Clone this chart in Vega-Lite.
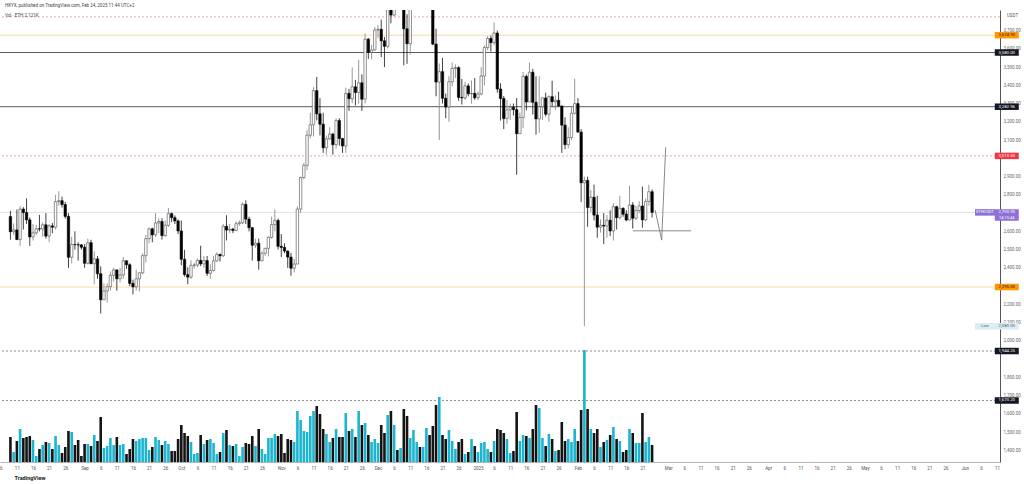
{
  "$schema": "https://vega.github.io/schema/vega-lite/v6.json",
  "width": 1000,
  "height": 452,
  "autosize": "none",
  "padding": {"left": 0, "top": 10, "right": 24, "bottom": 22},
  "background": "#ffffff",
  "config": {
    "view": {"stroke": null},
    "font": "Roboto",
    "axisY": {
      "labelOverlap": false, "labelBound": false, "labelFlush": false,
      "ticks": false, "grid": false,
      "domain": true, "domainColor": "#555", "domainWidth": 1,
      "labelFontSize": 4.5, "labelColor": "#666", "labelPadding": 3,
      "titleAngle": 0, "titleX": 12, "titleY": 5,
      "titleAlign": "center", "titleBaseline": "middle",
      "titleFontSize": 4.5, "titleFontWeight": "normal", "titleColor": "#555"
    }
  },
  "title": {
    "text": "HKYX, published on TradingView.com, Feb 24, 2025 11:44 UTC+2",
    "subtitle": "Vol · ETH   2.121K",
    "anchor": "start",
    "frame": "group",
    "orient": "top",
    "offset": -7,
    "dx": 5,
    "fontSize": 4.5,
    "fontWeight": "normal",
    "color": "#444",
    "subtitleFontSize": 4.5,
    "subtitleColor": "#444",
    "subtitlePadding": 5
  },
  "datasets": {
    "candles": [
      {"d":"2024-08-09","o":2681,"h":2712,"l":2554,"c":2598,"v":25},
      {"d":"2024-08-10","o":2598,"h":2643,"l":2580,"c":2608,"v":10},
      {"d":"2024-08-11","o":2608,"h":2720,"l":2552,"c":2555,"v":21},
      {"d":"2024-08-12","o":2555,"h":2740,"l":2520,"c":2722,"v":33},
      {"d":"2024-08-13","o":2722,"h":2733,"l":2610,"c":2703,"v":24},
      {"d":"2024-08-14","o":2703,"h":2781,"l":2640,"c":2663,"v":25},
      {"d":"2024-08-15","o":2663,"h":2676,"l":2520,"c":2569,"v":26},
      {"d":"2024-08-16","o":2569,"h":2640,"l":2550,"c":2592,"v":22},
      {"d":"2024-08-17","o":2592,"h":2635,"l":2580,"c":2614,"v":6},
      {"d":"2024-08-18","o":2614,"h":2690,"l":2600,"c":2613,"v":13},
      {"d":"2024-08-19","o":2613,"h":2650,"l":2570,"c":2636,"v":17},
      {"d":"2024-08-20","o":2636,"h":2700,"l":2560,"c":2574,"v":20},
      {"d":"2024-08-21","o":2574,"h":2640,"l":2540,"c":2630,"v":19},
      {"d":"2024-08-22","o":2630,"h":2646,"l":2590,"c":2623,"v":13},
      {"d":"2024-08-23","o":2623,"h":2800,"l":2610,"c":2763,"v":26},
      {"d":"2024-08-24","o":2763,"h":2820,"l":2740,"c":2768,"v":17},
      {"d":"2024-08-25","o":2768,"h":2790,"l":2730,"c":2747,"v":9},
      {"d":"2024-08-26","o":2747,"h":2762,"l":2670,"c":2682,"v":15},
      {"d":"2024-08-27","o":2682,"h":2700,"l":2400,"c":2458,"v":31},
      {"d":"2024-08-28","o":2458,"h":2570,"l":2424,"c":2528,"v":30},
      {"d":"2024-08-29","o":2528,"h":2600,"l":2500,"c":2527,"v":17},
      {"d":"2024-08-30","o":2527,"h":2540,"l":2440,"c":2526,"v":22},
      {"d":"2024-08-31","o":2526,"h":2530,"l":2500,"c":2513,"v":6},
      {"d":"2024-09-01","o":2513,"h":2530,"l":2400,"c":2425,"v":18},
      {"d":"2024-09-02","o":2425,"h":2560,"l":2418,"c":2538,"v":18},
      {"d":"2024-09-03","o":2538,"h":2554,"l":2420,"c":2423,"v":16},
      {"d":"2024-09-04","o":2423,"h":2490,"l":2310,"c":2449,"v":27},
      {"d":"2024-09-05","o":2449,"h":2465,"l":2340,"c":2368,"v":21},
      {"d":"2024-09-06","o":2368,"h":2408,"l":2150,"c":2225,"v":45},
      {"d":"2024-09-07","o":2225,"h":2315,"l":2225,"c":2273,"v":14},
      {"d":"2024-09-08","o":2273,"h":2315,"l":2210,"c":2297,"v":16},
      {"d":"2024-09-09","o":2297,"h":2380,"l":2275,"c":2359,"v":24},
      {"d":"2024-09-10","o":2359,"h":2400,"l":2325,"c":2389,"v":17},
      {"d":"2024-09-11","o":2389,"h":2389,"l":2275,"c":2340,"v":25},
      {"d":"2024-09-12","o":2340,"h":2400,"l":2320,"c":2361,"v":17},
      {"d":"2024-09-13","o":2361,"h":2460,"l":2340,"c":2439,"v":18},
      {"d":"2024-09-14","o":2439,"h":2440,"l":2395,"c":2417,"v":8},
      {"d":"2024-09-15","o":2417,"h":2425,"l":2300,"c":2315,"v":13},
      {"d":"2024-09-16","o":2315,"h":2335,"l":2255,"c":2296,"v":23},
      {"d":"2024-09-17","o":2296,"h":2390,"l":2275,"c":2340,"v":21},
      {"d":"2024-09-18","o":2340,"h":2375,"l":2270,"c":2373,"v":23},
      {"d":"2024-09-19","o":2373,"h":2480,"l":2365,"c":2467,"v":24},
      {"d":"2024-09-20","o":2467,"h":2580,"l":2430,"c":2560,"v":24},
      {"d":"2024-09-21","o":2560,"h":2620,"l":2535,"c":2614,"v":12},
      {"d":"2024-09-22","o":2614,"h":2620,"l":2540,"c":2581,"v":15},
      {"d":"2024-09-23","o":2581,"h":2700,"l":2570,"c":2646,"v":25},
      {"d":"2024-09-24","o":2646,"h":2670,"l":2590,"c":2654,"v":22},
      {"d":"2024-09-25","o":2654,"h":2672,"l":2555,"c":2577,"v":17},
      {"d":"2024-09-26","o":2577,"h":2660,"l":2570,"c":2633,"v":21},
      {"d":"2024-09-27","o":2633,"h":2728,"l":2625,"c":2697,"v":18},
      {"d":"2024-09-28","o":2697,"h":2703,"l":2650,"c":2675,"v":11},
      {"d":"2024-09-29","o":2675,"h":2687,"l":2640,"c":2657,"v":11},
      {"d":"2024-09-30","o":2657,"h":2665,"l":2585,"c":2602,"v":23},
      {"d":"2024-10-01","o":2602,"h":2660,"l":2414,"c":2447,"v":37},
      {"d":"2024-10-02","o":2447,"h":2499,"l":2352,"c":2363,"v":29},
      {"d":"2024-10-03","o":2363,"h":2403,"l":2310,"c":2349,"v":26},
      {"d":"2024-10-04","o":2349,"h":2441,"l":2340,"c":2414,"v":20},
      {"d":"2024-10-05","o":2414,"h":2428,"l":2395,"c":2415,"v":8},
      {"d":"2024-10-06","o":2415,"h":2450,"l":2404,"c":2441,"v":9},
      {"d":"2024-10-07","o":2441,"h":2521,"l":2410,"c":2422,"v":27},
      {"d":"2024-10-08","o":2422,"h":2465,"l":2400,"c":2440,"v":18},
      {"d":"2024-10-09","o":2440,"h":2465,"l":2355,"c":2370,"v":22},
      {"d":"2024-10-10","o":2370,"h":2420,"l":2340,"c":2386,"v":23},
      {"d":"2024-10-11","o":2386,"h":2465,"l":2380,"c":2438,"v":19},
      {"d":"2024-10-12","o":2438,"h":2485,"l":2433,"c":2474,"v":8},
      {"d":"2024-10-13","o":2474,"h":2477,"l":2435,"c":2466,"v":10},
      {"d":"2024-10-14","o":2466,"h":2640,"l":2460,"c":2628,"v":29},
      {"d":"2024-10-15","o":2628,"h":2688,"l":2550,"c":2607,"v":32},
      {"d":"2024-10-16","o":2607,"h":2640,"l":2590,"c":2612,"v":17},
      {"d":"2024-10-17","o":2612,"h":2620,"l":2590,"c":2605,"v":16},
      {"d":"2024-10-18","o":2605,"h":2655,"l":2600,"c":2642,"v":18},
      {"d":"2024-10-19","o":2642,"h":2660,"l":2630,"c":2647,"v":6},
      {"d":"2024-10-20","o":2647,"h":2760,"l":2640,"c":2748,"v":15},
      {"d":"2024-10-21","o":2748,"h":2770,"l":2640,"c":2667,"v":19},
      {"d":"2024-10-22","o":2667,"h":2680,"l":2600,"c":2620,"v":18},
      {"d":"2024-10-23","o":2620,"h":2624,"l":2440,"c":2524,"v":26},
      {"d":"2024-10-24","o":2524,"h":2560,"l":2510,"c":2535,"v":16},
      {"d":"2024-10-25","o":2535,"h":2560,"l":2390,"c":2439,"v":33},
      {"d":"2024-10-26","o":2439,"h":2490,"l":2436,"c":2480,"v":13},
      {"d":"2024-10-27","o":2480,"h":2510,"l":2466,"c":2507,"v":8},
      {"d":"2024-10-28","o":2507,"h":2572,"l":2463,"c":2567,"v":24},
      {"d":"2024-10-29","o":2567,"h":2680,"l":2560,"c":2637,"v":24},
      {"d":"2024-10-30","o":2637,"h":2720,"l":2600,"c":2660,"v":28},
      {"d":"2024-10-31","o":2660,"h":2670,"l":2500,"c":2518,"v":26},
      {"d":"2024-11-01","o":2518,"h":2585,"l":2460,"c":2512,"v":28},
      {"d":"2024-11-02","o":2512,"h":2535,"l":2480,"c":2492,"v":9},
      {"d":"2024-11-03","o":2492,"h":2495,"l":2400,"c":2459,"v":23},
      {"d":"2024-11-04","o":2459,"h":2482,"l":2357,"c":2398,"v":22},
      {"d":"2024-11-05","o":2398,"h":2450,"l":2375,"c":2421,"v":20},
      {"d":"2024-11-06","o":2421,"h":2737,"l":2420,"c":2722,"v":51},
      {"d":"2024-11-07","o":2722,"h":2900,"l":2701,"c":2895,"v":42},
      {"d":"2024-11-08","o":2895,"h":2975,"l":2885,"c":2962,"v":31},
      {"d":"2024-11-09","o":2962,"h":3155,"l":2935,"c":3127,"v":30},
      {"d":"2024-11-10","o":3127,"h":3250,"l":3110,"c":3184,"v":46},
      {"d":"2024-11-11","o":3184,"h":3390,"l":3120,"c":3371,"v":51},
      {"d":"2024-11-12","o":3371,"h":3446,"l":3208,"c":3244,"v":56},
      {"d":"2024-11-13","o":3244,"h":3330,"l":3126,"c":3187,"v":48},
      {"d":"2024-11-14","o":3187,"h":3250,"l":3030,"c":3058,"v":33},
      {"d":"2024-11-15","o":3058,"h":3125,"l":3020,"c":3107,"v":28},
      {"d":"2024-11-16","o":3107,"h":3170,"l":3100,"c":3133,"v":20},
      {"d":"2024-11-17","o":3133,"h":3140,"l":3020,"c":3075,"v":24},
      {"d":"2024-11-18","o":3075,"h":3220,"l":3052,"c":3207,"v":33},
      {"d":"2024-11-19","o":3207,"h":3220,"l":3070,"c":3109,"v":25},
      {"d":"2024-11-20","o":3109,"h":3110,"l":3030,"c":3068,"v":25},
      {"d":"2024-11-21","o":3068,"h":3387,"l":3030,"c":3356,"v":49},
      {"d":"2024-11-22","o":3356,"h":3380,"l":3260,"c":3327,"v":31},
      {"d":"2024-11-23","o":3327,"h":3498,"l":3302,"c":3392,"v":33},
      {"d":"2024-11-24","o":3392,"h":3430,"l":3290,"c":3361,"v":25},
      {"d":"2024-11-25","o":3361,"h":3540,"l":3300,"c":3414,"v":51},
      {"d":"2024-11-26","o":3414,"h":3460,"l":3260,"c":3324,"v":37},
      {"d":"2024-11-27","o":3324,"h":3684,"l":3300,"c":3653,"v":39},
      {"d":"2024-11-28","o":3653,"h":3660,"l":3545,"c":3581,"v":27},
      {"d":"2024-11-29","o":3581,"h":3622,"l":3542,"c":3594,"v":20},
      {"d":"2024-11-30","o":3594,"h":3720,"l":3590,"c":3703,"v":23},
      {"d":"2024-12-01","o":3703,"h":3730,"l":3660,"c":3707,"v":19},
      {"d":"2024-12-02","o":3707,"h":3760,"l":3555,"c":3644,"v":37},
      {"d":"2024-12-03","o":3644,"h":3665,"l":3500,"c":3614,"v":29},
      {"d":"2024-12-04","o":3614,"h":3845,"l":3603,"c":3837,"v":47},
      {"d":"2024-12-05","o":3837,"h":3935,"l":3740,"c":3785,"v":51},
      {"d":"2024-12-06","o":3785,"h":4010,"l":3777,"c":3998,"v":37},
      {"d":"2024-12-07","o":3998,"h":4018,"l":3960,"c":3996,"v":12},
      {"d":"2024-12-08","o":3996,"h":4020,"l":3925,"c":4005,"v":14},
      {"d":"2024-12-09","o":4005,"h":4005,"l":3510,"c":3710,"v":53},
      {"d":"2024-12-10","o":3710,"h":3790,"l":3518,"c":3628,"v":46},
      {"d":"2024-12-11","o":3628,"h":3842,"l":3570,"c":3831,"v":24},
      {"d":"2024-12-12","o":3831,"h":3990,"l":3830,"c":3879,"v":32},
      {"d":"2024-12-13","o":3879,"h":3950,"l":3850,"c":3907,"v":20},
      {"d":"2024-12-14","o":3907,"h":3940,"l":3850,"c":3871,"v":15},
      {"d":"2024-12-15","o":3871,"h":3975,"l":3850,"c":3960,"v":15},
      {"d":"2024-12-16","o":3960,"h":4107,"l":3900,"c":3986,"v":34},
      {"d":"2024-12-17","o":3986,"h":4050,"l":3860,"c":3890,"v":27},
      {"d":"2024-12-18","o":3890,"h":3915,"l":3620,"c":3626,"v":36},
      {"d":"2024-12-19","o":3626,"h":3710,"l":3340,"c":3418,"v":57},
      {"d":"2024-12-20","o":3418,"h":3520,"l":3100,"c":3475,"v":65},
      {"d":"2024-12-21","o":3475,"h":3550,"l":3300,"c":3329,"v":27},
      {"d":"2024-12-22","o":3329,"h":3355,"l":3220,"c":3281,"v":23},
      {"d":"2024-12-23","o":3281,"h":3450,"l":3200,"c":3420,"v":32},
      {"d":"2024-12-24","o":3420,"h":3525,"l":3395,"c":3493,"v":21},
      {"d":"2024-12-25","o":3493,"h":3515,"l":3440,"c":3497,"v":13},
      {"d":"2024-12-26","o":3497,"h":3505,"l":3315,"c":3334,"v":20},
      {"d":"2024-12-27","o":3334,"h":3435,"l":3295,"c":3331,"v":23},
      {"d":"2024-12-28","o":3331,"h":3419,"l":3320,"c":3397,"v":8},
      {"d":"2024-12-29","o":3397,"h":3410,"l":3340,"c":3354,"v":10},
      {"d":"2024-12-30","o":3354,"h":3427,"l":3300,"c":3356,"v":23},
      {"d":"2024-12-31","o":3356,"h":3440,"l":3320,"c":3332,"v":16},
      {"d":"2025-01-01","o":3332,"h":3367,"l":3320,"c":3353,"v":10},
      {"d":"2025-01-02","o":3353,"h":3500,"l":3345,"c":3451,"v":19},
      {"d":"2025-01-03","o":3451,"h":3620,"l":3400,"c":3607,"v":20},
      {"d":"2025-01-04","o":3607,"h":3670,"l":3592,"c":3657,"v":13},
      {"d":"2025-01-05","o":3657,"h":3673,"l":3585,"c":3634,"v":10},
      {"d":"2025-01-06","o":3634,"h":3745,"l":3620,"c":3687,"v":21},
      {"d":"2025-01-07","o":3687,"h":3700,"l":3360,"c":3380,"v":33},
      {"d":"2025-01-08","o":3380,"h":3412,"l":3207,"c":3328,"v":32},
      {"d":"2025-01-09","o":3328,"h":3342,"l":3160,"c":3218,"v":29},
      {"d":"2025-01-10","o":3218,"h":3320,"l":3190,"c":3266,"v":23},
      {"d":"2025-01-11","o":3266,"h":3300,"l":3210,"c":3280,"v":9},
      {"d":"2025-01-12","o":3280,"h":3300,"l":3235,"c":3267,"v":11},
      {"d":"2025-01-13","o":3267,"h":3330,"l":2910,"c":3135,"v":50},
      {"d":"2025-01-14","o":3135,"h":3250,"l":3135,"c":3224,"v":21},
      {"d":"2025-01-15","o":3224,"h":3473,"l":3165,"c":3449,"v":27},
      {"d":"2025-01-16","o":3449,"h":3460,"l":3263,"c":3309,"v":26},
      {"d":"2025-01-17","o":3309,"h":3525,"l":3308,"c":3472,"v":24},
      {"d":"2025-01-18","o":3472,"h":3490,"l":3240,"c":3307,"v":33},
      {"d":"2025-01-19","o":3307,"h":3450,"l":3130,"c":3216,"v":57},
      {"d":"2025-01-20","o":3216,"h":3450,"l":3140,"c":3283,"v":54},
      {"d":"2025-01-21","o":3283,"h":3335,"l":3210,"c":3331,"v":24},
      {"d":"2025-01-22","o":3331,"h":3360,"l":3230,"c":3242,"v":16},
      {"d":"2025-01-23","o":3242,"h":3345,"l":3200,"c":3338,"v":28},
      {"d":"2025-01-24","o":3338,"h":3425,"l":3285,"c":3310,"v":23},
      {"d":"2025-01-25","o":3310,"h":3345,"l":3265,"c":3318,"v":11},
      {"d":"2025-01-26","o":3318,"h":3365,"l":3283,"c":3287,"v":12},
      {"d":"2025-01-27","o":3287,"h":3290,"l":3030,"c":3182,"v":40},
      {"d":"2025-01-28","o":3182,"h":3225,"l":3050,"c":3075,"v":21},
      {"d":"2025-01-29","o":3075,"h":3170,"l":3055,"c":3114,"v":23},
      {"d":"2025-01-30","o":3114,"h":3280,"l":3100,"c":3247,"v":20},
      {"d":"2025-01-31","o":3247,"h":3437,"l":3240,"c":3300,"v":33},
      {"d":"2025-02-01","o":3300,"h":3330,"l":3140,"c":3144,"v":21},
      {"d":"2025-02-02","o":3144,"h":3160,"l":2760,"c":2866,"v":52},
      {"d":"2025-02-03","o":2866,"h":2900,"l":2080,"c":2879,"v":112},
      {"d":"2025-02-04","o":2879,"h":2900,"l":2625,"c":2731,"v":53},
      {"d":"2025-02-05","o":2731,"h":2826,"l":2705,"c":2787,"v":33},
      {"d":"2025-02-06","o":2787,"h":2856,"l":2660,"c":2689,"v":29},
      {"d":"2025-02-07","o":2689,"h":2795,"l":2565,"c":2623,"v":33},
      {"d":"2025-02-08","o":2623,"h":2665,"l":2593,"c":2633,"v":15},
      {"d":"2025-02-09","o":2633,"h":2700,"l":2530,"c":2629,"v":20},
      {"d":"2025-02-10","o":2629,"h":2690,"l":2565,"c":2661,"v":22},
      {"d":"2025-02-11","o":2661,"h":2715,"l":2575,"c":2602,"v":27},
      {"d":"2025-02-12","o":2602,"h":2755,"l":2550,"c":2735,"v":35},
      {"d":"2025-02-13","o":2735,"h":2740,"l":2610,"c":2675,"v":23},
      {"d":"2025-02-14","o":2675,"h":2795,"l":2665,"c":2726,"v":21},
      {"d":"2025-02-15","o":2726,"h":2732,"l":2680,"c":2694,"v":10},
      {"d":"2025-02-16","o":2694,"h":2716,"l":2655,"c":2662,"v":12},
      {"d":"2025-02-17","o":2662,"h":2850,"l":2660,"c":2744,"v":33},
      {"d":"2025-02-18","o":2744,"h":2760,"l":2615,"c":2672,"v":29},
      {"d":"2025-02-19","o":2672,"h":2740,"l":2662,"c":2714,"v":19},
      {"d":"2025-02-20","o":2714,"h":2765,"l":2700,"c":2739,"v":19},
      {"d":"2025-02-21","o":2739,"h":2845,"l":2620,"c":2663,"v":49},
      {"d":"2025-02-22","o":2663,"h":2780,"l":2655,"c":2764,"v":20},
      {"d":"2025-02-23","o":2764,"h":2855,"l":2740,"c":2817,"v":25},
      {"d":"2025-02-24","o":2817,"h":2830,"l":2676,"c":2704,"v":17}
    ],
    "levels": [
      {"p":3775,"s":"red"},
      {"p":3674.9,"s":"orange","t":"3,674.90"},
      {"p":3580,"s":"black","t":"3,580.00"},
      {"p":3282.96,"s":"black","t":"3,282.96"},
      {"p":3013.5,"s":"red","t":"3,013.50"},
      {"p":2703.9,"s":"last","t":"2,703.90"},
      {"p":2295,"s":"orange","t":"2,295.00"},
      {"p":2080,"s":"low","t":"2,080.00"},
      {"p":1944.25,"s":"blackdash","t":"1,944.25"},
      {"p":1673.2,"s":"blackdash","t":"1,673.20"}
    ],
    "countdown": [
      {"p":2703.9,"t":"14:15:44"}
    ],
    "tags": [
      {"p":2703.9,"s":"last","t":"ETHUSDT"},
      {"p":2080,"s":"low","t":"Low"}
    ],
    "zig": [
      {"t":"2025-02-24T22:30:00Z","p":2717,"k":1},
      {"t":"2025-02-26T23:20:00Z","p":2552,"k":2},
      {"t":"2025-02-28T05:00:00Z","p":3060,"k":3}
    ],
    "hline": [
      {"t1":"2025-02-18T00:00:00Z","t2":"2025-03-08T02:00:00Z","p":2603}
    ]
  },
  "layer": [
    {
      "data": {"name": "candles"},
      "mark": {"type": "bar", "size": 2.6},
      "encoding": {
        "x": {"field": "d", "type": "temporal",
          "scale": {"type": "utc", "domain": [{"year":2024,"month":8,"date":7,"hours":7,"minutes":35,"utc":true},{"year":2025,"month":6,"date":10,"hours":8,"minutes":24,"utc":true}]},
          "axis": {
            "tickCount": {"interval": "day", "step": 5},
            "labelExpr": "utcdate(datum.value) == 1 ? (utcmonth(datum.value) == 0 ? '' + utcyear(datum.value) : utcFormat(datum.value, '%b')) : ((utcdate(datum.value) == 31 || (utcmonth(datum.value) == 1 && utcdate(datum.value) == 26)) ? '' : '' + utcdate(datum.value))",
            "labelOverlap": false, "labelFlush": false, "labelBound": false,
            "ticks": false, "grid": false,
            "domain": true, "domainColor": "#b2b5be", "domainWidth": 1,
            "labelFontSize": 4.5, "labelColor": "#555", "labelPadding": 3,
            "title": "TradingView", "titleX": 14, "titleY": 15, "titleAlign": "left", "titleBaseline": "middle",
            "titleFontSize": 5.5, "titleFontWeight": "bold", "titleColor": "#131722"
          }
        },
        "y": {"field": "v", "type": "quantitative", "scale": {"domain": [0, 452]}, "axis": null},
        "color": {"condition": {"test": "datum.c >= datum.o", "value": "#1cb5cf"}, "value": "#141414"}
      }
    },
    {
      "resolve": {"scale": {"color": "independent", "strokeDash": "independent"}},
      "layer": [
        {
          "data": {"name": "levels"},
          "transform": [{"filter": "datum.s != 'low'"}],
          "mark": {"type": "rule", "strokeWidth": 1},
          "encoding": {
            "y": {"field": "p", "type": "quantitative", "scale": {"domain": [1336.2, 3812.9], "zero": false, "nice": false},
              "axis": {"orient": "right", "values": [1400,1500,1600,1700,1800,1900,2000,2100,2200,2300,2400,2500,2600,2700,2800,2900,3000,3100,3200,3300,3400,3500,3600,3700], "labelExpr": "(datum.value == 3000 || datum.value == 2700 || datum.value == 2300 || datum.value == 1900) ? '' : format(datum.value, ',.2f')", "title": "USDT"}
            },
            "color": {"field": "s", "type": "nominal", "legend": null,
              "scale": {"domain": ["red","orange","black","blackdash","last"], "range": ["#f5a0a6","#fcd7a4","#5a5a5a","#8c8c8c","#e4def5"]}},
            "strokeDash": {"field": "s", "type": "nominal", "legend": null,
              "scale": {"domain": ["red","orange","black","blackdash","last"], "range": [[2,2],[1,0],[1,0],[2,2],[1,0]]}}
          }
        },
        {
          "data": {"name": "hline"},
          "mark": {"type": "rule", "color": "#6b6b6b", "strokeWidth": 0.8},
          "encoding": {
            "x": {"field": "t1", "type": "temporal", "scale": {"type": "utc", "domain": [{"year":2024,"month":8,"date":7,"hours":7,"minutes":35,"utc":true},{"year":2025,"month":6,"date":10,"hours":8,"minutes":24,"utc":true}]}},
            "x2": {"field": "t2"},
            "y": {"field": "p", "type": "quantitative", "scale": {"domain": [1336.2, 3812.9], "zero": false, "nice": false},
              "axis": {"orient": "right", "values": [1400,1500,1600,1700,1800,1900,2000,2100,2200,2300,2400,2500,2600,2700,2800,2900,3000,3100,3200,3300,3400,3500,3600,3700], "labelExpr": "(datum.value == 3000 || datum.value == 2700 || datum.value == 2300 || datum.value == 1900) ? '' : format(datum.value, ',.2f')", "title": "USDT"}}
          }
        },
        {
          "data": {"name": "zig"},
          "mark": {"type": "line", "color": "#6b6b6b", "strokeWidth": 0.8},
          "encoding": {
            "x": {"field": "t", "type": "temporal", "scale": {"type": "utc", "domain": [{"year":2024,"month":8,"date":7,"hours":7,"minutes":35,"utc":true},{"year":2025,"month":6,"date":10,"hours":8,"minutes":24,"utc":true}]}},
            "y": {"field": "p", "type": "quantitative", "scale": {"domain": [1336.2, 3812.9], "zero": false, "nice": false},
              "axis": {"orient": "right", "values": [1400,1500,1600,1700,1800,1900,2000,2100,2200,2300,2400,2500,2600,2700,2800,2900,3000,3100,3200,3300,3400,3500,3600,3700], "labelExpr": "(datum.value == 3000 || datum.value == 2700 || datum.value == 2300 || datum.value == 1900) ? '' : format(datum.value, ',.2f')", "title": "USDT"}},
            "order": {"field": "k"}
          }
        },
        {
          "data": {"name": "candles"},
          "mark": {"type": "rule", "strokeWidth": 0.8, "clip": true},
          "encoding": {
            "x": {"field": "d", "type": "temporal", "scale": {"type": "utc", "domain": [{"year":2024,"month":8,"date":7,"hours":7,"minutes":35,"utc":true},{"year":2025,"month":6,"date":10,"hours":8,"minutes":24,"utc":true}]}},
            "y": {"field": "l", "type": "quantitative", "scale": {"domain": [1336.2, 3812.9], "zero": false, "nice": false},
              "axis": {"orient": "right", "values": [1400,1500,1600,1700,1800,1900,2000,2100,2200,2300,2400,2500,2600,2700,2800,2900,3000,3100,3200,3300,3400,3500,3600,3700], "labelExpr": "(datum.value == 3000 || datum.value == 2700 || datum.value == 2300 || datum.value == 1900) ? '' : format(datum.value, ',.2f')", "title": "USDT"}},
            "y2": {"field": "h"},
            "color": {"condition": {"test": "datum.c >= datum.o", "value": "#7d7d7d"}, "value": "#111111"}
          }
        },
        {
          "data": {"name": "candles"},
          "mark": {"type": "bar", "size": 2.4, "strokeWidth": 0.6, "clip": true},
          "encoding": {
            "x": {"field": "d", "type": "temporal", "scale": {"type": "utc", "domain": [{"year":2024,"month":8,"date":7,"hours":7,"minutes":35,"utc":true},{"year":2025,"month":6,"date":10,"hours":8,"minutes":24,"utc":true}]}},
            "y": {"field": "o", "type": "quantitative", "scale": {"domain": [1336.2, 3812.9], "zero": false, "nice": false},
              "axis": {"orient": "right", "values": [1400,1500,1600,1700,1800,1900,2000,2100,2200,2300,2400,2500,2600,2700,2800,2900,3000,3100,3200,3300,3400,3500,3600,3700], "labelExpr": "(datum.value == 3000 || datum.value == 2700 || datum.value == 2300 || datum.value == 1900) ? '' : format(datum.value, ',.2f')", "title": "USDT"}},
            "y2": {"field": "c"},
            "fill": {"condition": {"test": "datum.c >= datum.o", "value": "#ffffff"}, "value": "#000000"},
            "stroke": {"condition": {"test": "datum.c >= datum.o", "value": "#4a4a4a"}, "value": "#000000"}
          }
        },
        {
          "data": {"name": "levels"},
          "transform": [{"filter": "datum.t && datum.s != 'last'"}],
          "mark": {"type": "tick", "orient": "horizontal", "size": 24, "thickness": 6.5, "opacity": 1},
          "encoding": {
            "x": {"datum": {"year":2025,"month":6,"date":14,"utc":true}, "type": "temporal", "scale": {"type": "utc", "domain": [{"year":2024,"month":8,"date":7,"hours":7,"minutes":35,"utc":true},{"year":2025,"month":6,"date":10,"hours":8,"minutes":24,"utc":true}]}},
            "y": {"field": "p", "type": "quantitative", "scale": {"domain": [1336.2, 3812.9], "zero": false, "nice": false},
              "axis": {"orient": "right", "values": [1400,1500,1600,1700,1800,1900,2000,2100,2200,2300,2400,2500,2600,2700,2800,2900,3000,3100,3200,3300,3400,3500,3600,3700], "labelExpr": "(datum.value == 3000 || datum.value == 2700 || datum.value == 2300 || datum.value == 1900) ? '' : format(datum.value, ',.2f')", "title": "USDT"}},
            "color": {"field": "s", "type": "nominal", "legend": null,
              "scale": {"domain": ["red","orange","black","blackdash","low"], "range": ["#f23645","#ff9800","#131722","#131722","#dcecf4"]}}
          }
        },
        {
          "data": {"name": "levels"},
          "transform": [{"filter": "datum.s == 'last'"}],
          "mark": {"type": "tick", "orient": "horizontal", "size": 24, "thickness": 11.5, "opacity": 1, "yOffset": 2.6, "color": "#8f6fd8"},
          "encoding": {
            "x": {"datum": {"year":2025,"month":6,"date":14,"utc":true}, "type": "temporal", "scale": {"type": "utc", "domain": [{"year":2024,"month":8,"date":7,"hours":7,"minutes":35,"utc":true},{"year":2025,"month":6,"date":10,"hours":8,"minutes":24,"utc":true}]}},
            "y": {"field": "p", "type": "quantitative", "scale": {"domain": [1336.2, 3812.9], "zero": false, "nice": false},
              "axis": {"orient": "right", "values": [1400,1500,1600,1700,1800,1900,2000,2100,2200,2300,2400,2500,2600,2700,2800,2900,3000,3100,3200,3300,3400,3500,3600,3700], "labelExpr": "(datum.value == 3000 || datum.value == 2700 || datum.value == 2300 || datum.value == 1900) ? '' : format(datum.value, ',.2f')", "title": "USDT"}}
          }
        },
        {
          "data": {"name": "levels"},
          "transform": [{"filter": "datum.t"}],
          "mark": {"type": "text", "fontSize": 4.3, "align": "center", "baseline": "middle"},
          "encoding": {
            "x": {"datum": {"year":2025,"month":6,"date":14,"utc":true}, "type": "temporal", "scale": {"type": "utc", "domain": [{"year":2024,"month":8,"date":7,"hours":7,"minutes":35,"utc":true},{"year":2025,"month":6,"date":10,"hours":8,"minutes":24,"utc":true}]}},
            "y": {"field": "p", "type": "quantitative", "scale": {"domain": [1336.2, 3812.9], "zero": false, "nice": false},
              "axis": {"orient": "right", "values": [1400,1500,1600,1700,1800,1900,2000,2100,2200,2300,2400,2500,2600,2700,2800,2900,3000,3100,3200,3300,3400,3500,3600,3700], "labelExpr": "(datum.value == 3000 || datum.value == 2700 || datum.value == 2300 || datum.value == 1900) ? '' : format(datum.value, ',.2f')", "title": "USDT"}},
            "text": {"field": "t"},
            "color": {"field": "s", "type": "nominal", "legend": null,
              "scale": {"domain": ["red","orange","black","blackdash","last","low"], "range": ["#ffffff","#131722","#ffffff","#ffffff","#ffffff","#4d6470"]}}
          }
        },
        {
          "data": {"name": "countdown"},
          "mark": {"type": "text", "fontSize": 4, "align": "center", "baseline": "middle", "yOffset": 5.5, "color": "#ffffff"},
          "encoding": {
            "x": {"datum": {"year":2025,"month":6,"date":14,"utc":true}, "type": "temporal", "scale": {"type": "utc", "domain": [{"year":2024,"month":8,"date":7,"hours":7,"minutes":35,"utc":true},{"year":2025,"month":6,"date":10,"hours":8,"minutes":24,"utc":true}]}},
            "y": {"field": "p", "type": "quantitative", "scale": {"domain": [1336.2, 3812.9], "zero": false, "nice": false},
              "axis": {"orient": "right", "values": [1400,1500,1600,1700,1800,1900,2000,2100,2200,2300,2400,2500,2600,2700,2800,2900,3000,3100,3200,3300,3400,3500,3600,3700], "labelExpr": "(datum.value == 3000 || datum.value == 2700 || datum.value == 2300 || datum.value == 1900) ? '' : format(datum.value, ',.2f')", "title": "USDT"}},
            "text": {"field": "t"}
          }
        },
        {
          "data": {"name": "tags"},
          "mark": {"type": "tick", "orient": "horizontal", "size": 20, "thickness": 6.5, "opacity": 1},
          "encoding": {
            "x": {"datum": {"year":2025,"month":6,"date":7,"hours":6,"utc":true}, "type": "temporal", "scale": {"type": "utc", "domain": [{"year":2024,"month":8,"date":7,"hours":7,"minutes":35,"utc":true},{"year":2025,"month":6,"date":10,"hours":8,"minutes":24,"utc":true}]}},
            "y": {"field": "p", "type": "quantitative", "scale": {"domain": [1336.2, 3812.9], "zero": false, "nice": false},
              "axis": {"orient": "right", "values": [1400,1500,1600,1700,1800,1900,2000,2100,2200,2300,2400,2500,2600,2700,2800,2900,3000,3100,3200,3300,3400,3500,3600,3700], "labelExpr": "(datum.value == 3000 || datum.value == 2700 || datum.value == 2300 || datum.value == 1900) ? '' : format(datum.value, ',.2f')", "title": "USDT"}},
            "color": {"field": "s", "type": "nominal", "legend": null,
              "scale": {"domain": ["last","low"], "range": ["#8f6fd8","#dcecf4"]}}
          }
        },
        {
          "data": {"name": "tags"},
          "mark": {"type": "text", "fontSize": 4, "align": "center", "baseline": "middle"},
          "encoding": {
            "x": {"datum": {"year":2025,"month":6,"date":7,"hours":6,"utc":true}, "type": "temporal", "scale": {"type": "utc", "domain": [{"year":2024,"month":8,"date":7,"hours":7,"minutes":35,"utc":true},{"year":2025,"month":6,"date":10,"hours":8,"minutes":24,"utc":true}]}},
            "y": {"field": "p", "type": "quantitative", "scale": {"domain": [1336.2, 3812.9], "zero": false, "nice": false},
              "axis": {"orient": "right", "values": [1400,1500,1600,1700,1800,1900,2000,2100,2200,2300,2400,2500,2600,2700,2800,2900,3000,3100,3200,3300,3400,3500,3600,3700], "labelExpr": "(datum.value == 3000 || datum.value == 2700 || datum.value == 2300 || datum.value == 1900) ? '' : format(datum.value, ',.2f')", "title": "USDT"}},
            "text": {"field": "t"},
            "color": {"field": "s", "type": "nominal", "legend": null,
              "scale": {"domain": ["last","low"], "range": ["#ffffff","#4d6470"]}}
          }
        }
      ]
    }
  ],
  "resolve": {"scale": {"y": "independent"}}
}
